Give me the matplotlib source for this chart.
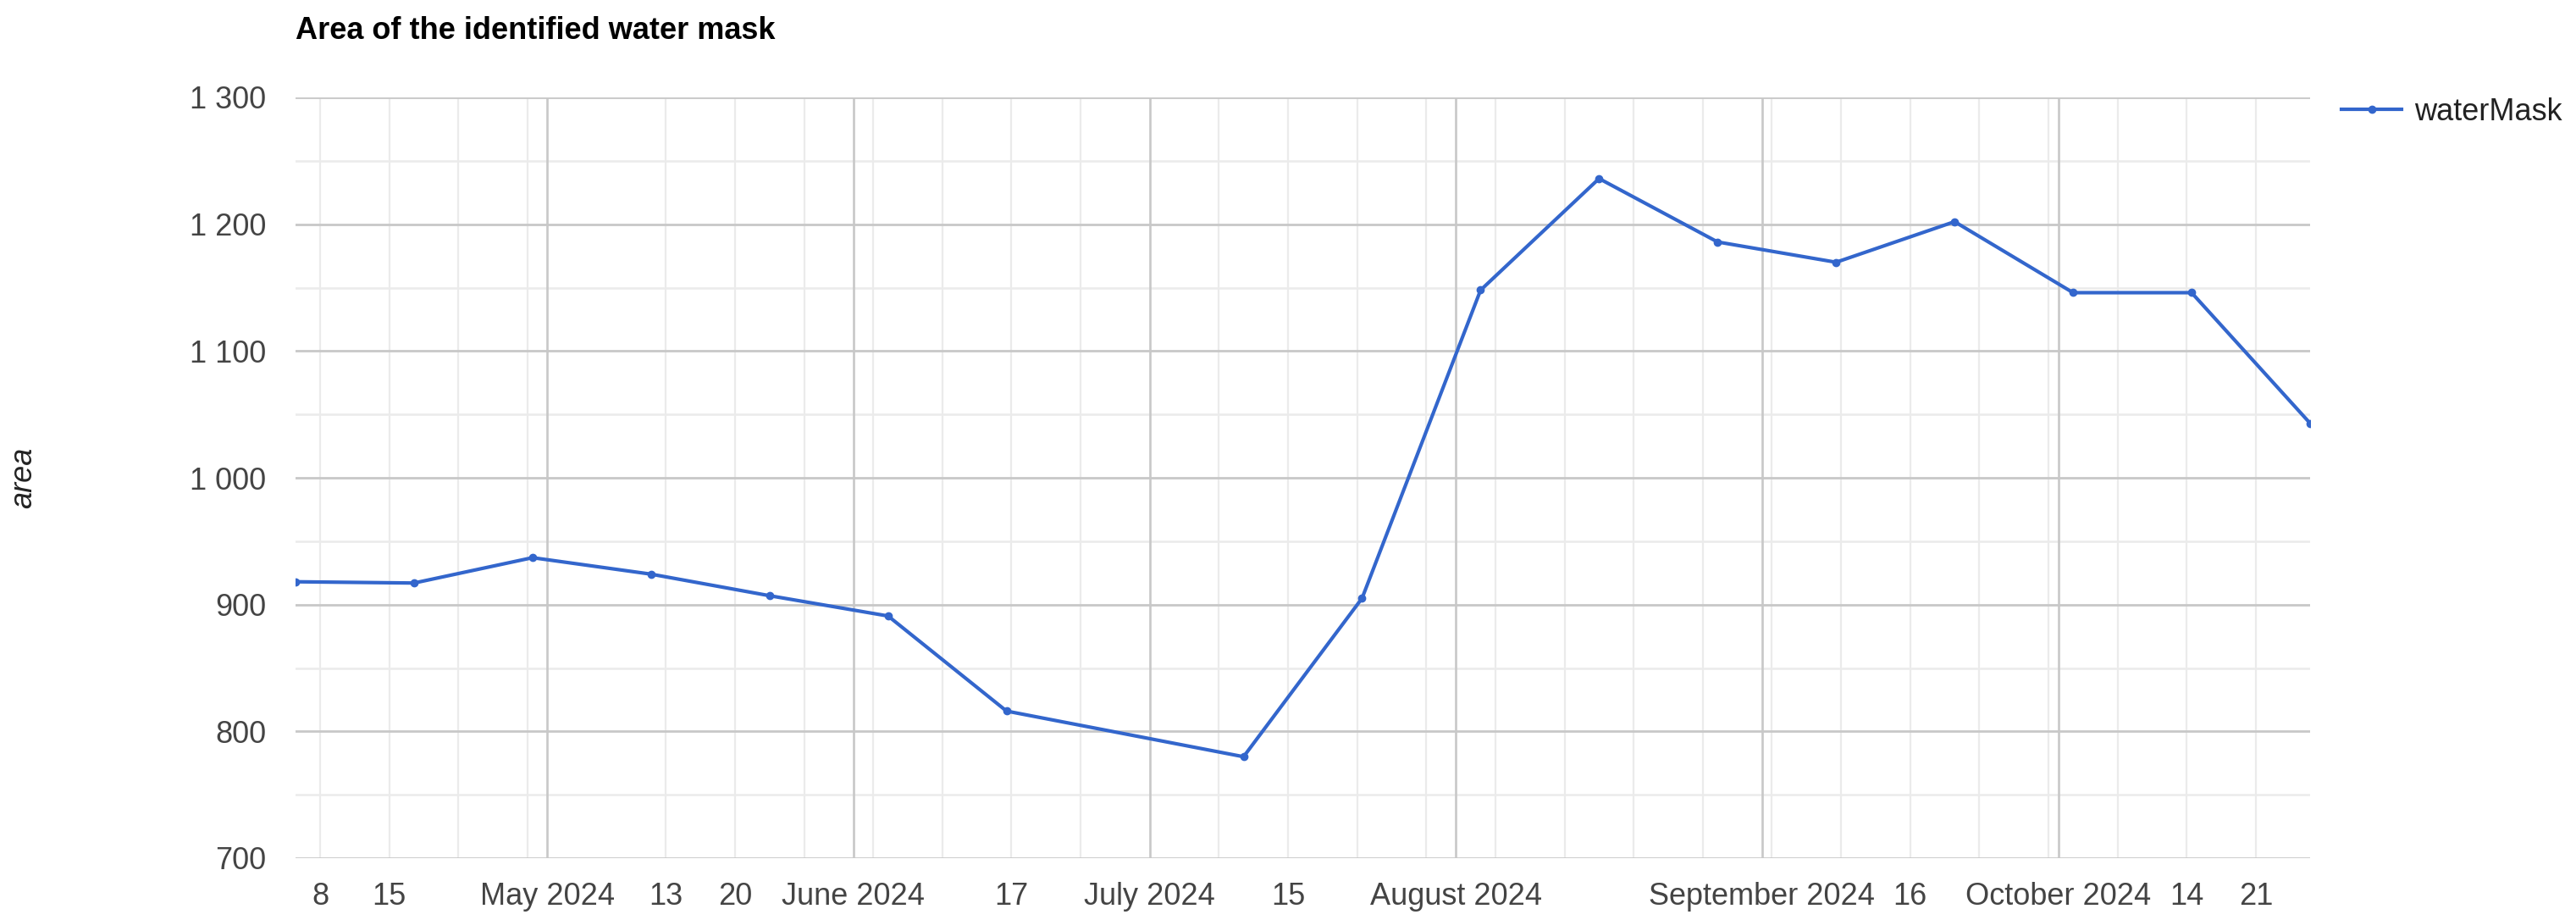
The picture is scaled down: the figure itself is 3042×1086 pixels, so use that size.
import matplotlib
matplotlib.use("Agg")
import matplotlib.pyplot as plt
import numpy as np
import pandas as pd

# ---- data ----
dates = ["2024-04-06", "2024-04-18", "2024-04-30", "2024-05-12", "2024-05-24",
         "2024-06-05", "2024-06-17", "2024-07-11", "2024-07-23", "2024-08-04",
         "2024-08-16", "2024-08-28", "2024-09-09", "2024-09-21", "2024-10-03",
         "2024-10-15", "2024-10-27"]
water_mask = [918, 917, 937, 924, 907, 891, 816, 780, 905, 1148, 1236,
              1186, 1170, 1202, 1146, 1146, 1043]

tick_dates = ["2024-04-08", "2024-04-15", "2024-05-01", "2024-05-13", "2024-05-20",
              "2024-06-01", "2024-06-17", "2024-07-01", "2024-07-15", "2024-08-01",
              "2024-09-01", "2024-09-16", "2024-10-01", "2024-10-14", "2024-10-21"]
tick_labels = ["8", "15", "May 2024", "13", "20", "June 2024", "17", "July 2024",
               "15", "August 2024", "September 2024", "16", "October 2024", "14", "21"]

major_grid_dates = ["2024-05-01", "2024-06-01", "2024-07-01", "2024-08-01",
                    "2024-09-01", "2024-10-01"]
minor_grid_dates = ["2024-04-08", "2024-04-15", "2024-04-22", "2024-04-29",
                    "2024-05-13", "2024-05-20", "2024-05-27", "2024-06-03",
                    "2024-06-10", "2024-06-17", "2024-06-24", "2024-07-08",
                    "2024-07-15", "2024-07-22", "2024-07-29", "2024-08-05",
                    "2024-08-12", "2024-08-19", "2024-08-26", "2024-09-02",
                    "2024-09-09", "2024-09-16", "2024-09-23", "2024-09-30",
                    "2024-10-07", "2024-10-14", "2024-10-21"]

y_major = [700, 800, 900, 1000, 1100, 1200, 1300]
y_minor = [750, 850, 950, 1050, 1150, 1250]
y_labels = ["700", "800", "900", "1 000", "1 100", "1 200", "1 300"]

# display time shift (acquisition times shown in local time)
shift = pd.Timedelta(hours=-12)

x = pd.to_datetime(dates) + shift

FONT = "Liberation Sans"
plt.rcParams["font.family"] = [FONT, "DejaVu Sans"]

W, H = 3042, 1086
fig = plt.figure(figsize=(W / 100, H / 100), dpi=100)
ax = fig.add_axes([349 / W, 1 - 1013 / H, (2728 - 349) / W, (1013 - 115) / H])

# grid
for d in minor_grid_dates:
    ax.axvline(pd.Timestamp(d), color="#ebebeb", lw=1.6, zorder=0)
for d in major_grid_dates:
    ax.axvline(pd.Timestamp(d), color="#c8c8c8", lw=1.9, zorder=0.5)
for v in y_minor:
    ax.axhline(v, color="#ebebeb", lw=1.8, zorder=0)
for v in y_major:
    ax.axhline(v, color="#c8c8c8", lw=2.0, zorder=0.5)

ax.plot(x, water_mask, color="#3366cc", lw=3.0, marker="o", markersize=6,
        label="waterMask", zorder=3, solid_joinstyle="round")

ax.set_xlim(x[0], x[-1])
ax.set_ylim(700, 1300)

ax.set_xticks(pd.to_datetime(tick_dates))
ax.set_xticklabels(tick_labels)
ax.set_yticks(y_major)
ax.set_yticklabels(y_labels)
ax.tick_params(axis="both", length=0, labelsize=26, labelcolor="#444444")
ax.tick_params(axis="x", pad=20)
ax.tick_params(axis="y", pad=25)
for s in ax.spines.values():
    s.set_visible(False)

fig.text(349 / W, 1 - 36 / H, "Area of the identified water mask",
         fontsize=26, fontweight="bold", color="#000000", ha="left", va="center")
fig.text(28 / W, 1 - 564 / H, "area", fontsize=26, style="italic",
         color="#222222", rotation=90, ha="center", va="center")

leg = ax.legend(loc="center left", bbox_to_anchor=(2765 / W, 1 - 132 / H),
                bbox_transform=fig.transFigure, frameon=False, fontsize=26,
                handlelength=1.97, handletextpad=0.42, borderpad=0,
                borderaxespad=0, labelcolor="#222222")

fig.savefig("out.png", dpi=100)
